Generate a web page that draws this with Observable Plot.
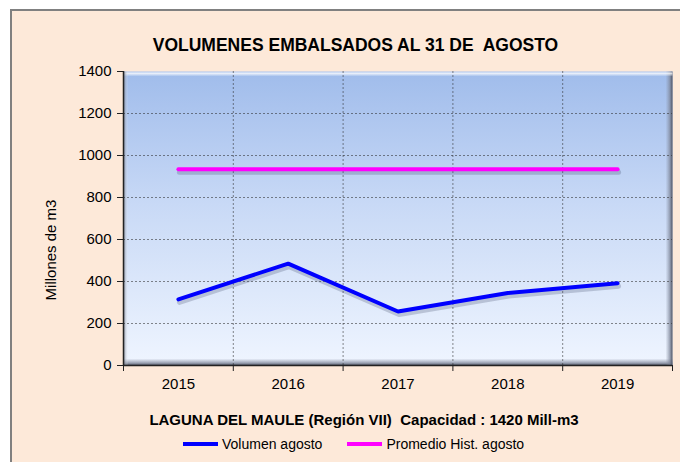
<!DOCTYPE html>
<html>
<head>
<meta charset="utf-8">
<script src="https://cdn.jsdelivr.net/npm/d3@7"></script>
<script src="https://cdn.jsdelivr.net/npm/@observablehq/plot@0.6"></script>
<style>
  html, body { margin: 0; padding: 0; background: #fff; }
  #wrap { position: relative; width: 680px; height: 462px; overflow: hidden; background: #fff;
          font-family: "Liberation Sans", Arial, sans-serif; color: #000; }
  #panel { position: absolute; left: 10px; top: 9px; width: 700px; height: 480px;
           background: #FDE9D9; border: 2px solid #808080; box-sizing: border-box; }
  #chart { position: absolute; left: 0; top: 0; }
  #title { position: absolute; left: 0; width: 711px; top: 35px; line-height: 20px; white-space: pre;
           text-align: center; font-weight: bold; font-size: 17.5px; }
  #subtitle { position: absolute; left: 0; width: 728px; top: 410px; line-height: 20px; white-space: pre;
              text-align: center; font-weight: bold; font-size: 15px; }
  #ylabel { position: absolute; left: 51px; top: 250px; width: 0; height: 0; }
  #ylabel span { position: absolute; left: 0; top: 0; transform: translate(-50%, -50%) rotate(-90deg);
                 white-space: pre; font-size: 15px; line-height: 18px; }
  #legend { position: absolute; left: 183px; top: 434px; height: 20px; display: flex;
            align-items: center; font-size: 14px; line-height: 20px; white-space: pre; }
  #legend .sw { display: inline-block; width: 35px; height: 4px; margin-right: 4px; }
  #legend .gap { display: inline-block; width: 25px; }
</style>
</head>
<body>
<div id="wrap">
  <div id="panel"></div>
  <div id="chart"></div>
  <div id="title"></div>
  <div id="subtitle"></div>
  <div id="ylabel"><span></span></div>
  <div id="legend"></div>
</div>
<script>
// ---- data ----
const chartTitle = "VOLUMENES EMBALSADOS AL 31 DE  AGOSTO";
const chartSubtitle = "LAGUNA DEL MAULE (Región VII)  Capacidad : 1420 Mill-m3";
const yLabel = "Millones de m3";
const years = [2015, 2016, 2017, 2018, 2019];
const volumenAgosto = [315, 485, 257, 345, 392];
const promedioHist = [935, 935, 935, 935, 935];
const seriesNames = ["Volumen agosto", "Promedio Hist. agosto"];
const seriesColors = ["#0000FF", "#FF00FF"];
const yTicks = [0, 200, 400, 600, 800, 1000, 1200, 1400];
const yearBounds = [2014.5, 2015.5, 2016.5, 2017.5, 2018.5, 2019.5];

const rows = [];
years.forEach((yr, i) => {
  rows.push({year: yr, value: volumenAgosto[i], series: seriesNames[0]});
  rows.push({year: yr, value: promedioHist[i], series: seriesNames[1]});
});
const s0 = rows.filter(d => d.series === seriesNames[0]);
const s1 = rows.filter(d => d.series === seriesNames[1]);

const W = 680, H = 462, mL = 123, mR = 8, mT = 71, mB = 97;
const plotW = W - mL - mR, plotH = H - mT - mB;
const font = "'Liberation Sans', Arial, sans-serif";

const chart = Plot.plot({
  width: W, height: H,
  marginLeft: mL, marginRight: mR, marginTop: mT, marginBottom: mB,
  style: {background: "transparent", fontFamily: font, fontSize: "15px", color: "#000", overflow: "visible"},
  x: {domain: [yearBounds[0], yearBounds[yearBounds.length - 1]]},
  y: {domain: [yTicks[0], yTicks[yTicks.length - 1]]},
  marks: [
    Plot.frame({fill: "url(#plotBg)"}),
    Plot.frame({fill: "url(#bevB)", insetTop: plotH - 7}),
    Plot.frame({fill: "url(#bevR)", insetLeft: plotW - 7}),
    Plot.frame({fill: "url(#bevT)", insetBottom: plotH - 5}),
    Plot.frame({fill: "url(#bevL)", insetRight: plotW - 5}),
    Plot.gridY(yTicks.filter(v => v > yTicks[0] && v < yTicks[yTicks.length - 1]),
      {stroke: "#2a2a2a", strokeOpacity: 0.55, strokeDasharray: "2,2"}),
    Plot.gridX(yearBounds.slice(1, -1),
      {stroke: "#2a2a2a", strokeOpacity: 0.55, strokeDasharray: "2,2"}),
    Plot.line(s1, {x: "year", y: "value", stroke: "#2a3050", strokeOpacity: 0.22, strokeWidth: 5, dx: 1, dy: 3}),
    Plot.line(s0, {x: "year", y: "value", stroke: "#2a3050", strokeOpacity: 0.22, strokeWidth: 5, dx: 1, dy: 3}),
    Plot.line(s1, {x: "year", y: "value", stroke: seriesColors[1], strokeWidth: 4, strokeLinecap: "round"}),
    Plot.line(s0, {x: "year", y: "value", stroke: seriesColors[0], strokeWidth: 4, strokeLinecap: "round", strokeLinejoin: "miter"}),
    Plot.ruleX([yearBounds[0]], {stroke: "#222", strokeWidth: 1.5}),
    Plot.ruleY([yTicks[0]], {stroke: "#222", strokeWidth: 1.5}),
    Plot.axisY(yTicks, {tickSize: 6, tickPadding: 6, fontSize: 15, label: null, stroke: "#222", tickFormat: d => String(d)}),
    Plot.axisX(years, {tickSize: 0, tickPadding: 13, fontSize: 15, label: null, tickFormat: d => String(d)}),
    Plot.axisX(yearBounds, {tickSize: 6, label: null, tickFormat: () => "", stroke: "#222"})
  ]
});

// gradients for the plot area
const defs = d3.select(chart).insert("defs", ":first-child");
function grad(id, x2, y2, stops) {
  const g = defs.append("linearGradient").attr("id", id)
    .attr("x1", 0).attr("y1", 0).attr("x2", x2).attr("y2", y2);
  stops.forEach(([o, c, a]) => g.append("stop").attr("offset", o).attr("stop-color", c).attr("stop-opacity", a));
}
grad("plotBg", 0, 1, [[0, "#A0BCEB", 1], [0.45, "#C8D9F6", 1], [1, "#EFF5FF", 1]]);
grad("bevB", 0, 1, [[0, "#8A93A6", 0], [0.6, "#7C8497", 0.7], [1, "#4B5060", 1]]);
grad("bevR", 1, 0, [[0, "#8A93A6", 0], [0.6, "#7C8497", 0.7], [1, "#4B5060", 1]]);
grad("bevT", 0, 1, [[0, "#FFFFFF", 0.2], [0.4, "#FFFFFF", 0.75], [1, "#FFFFFF", 0]]);
grad("bevL", 1, 0, [[0, "#5C6475", 0.7], [1, "#FFFFFF", 0]]);

document.getElementById("chart").appendChild(chart);
document.getElementById("title").textContent = chartTitle;
document.getElementById("subtitle").textContent = chartSubtitle;
document.querySelector("#ylabel span").textContent = yLabel;

const legend = document.getElementById("legend");
seriesNames.forEach((name, i) => {
  if (i > 0) { const g = document.createElement("span"); g.className = "gap"; legend.appendChild(g); }
  const sw = document.createElement("span"); sw.className = "sw"; sw.style.background = seriesColors[i];
  const t = document.createElement("span"); t.textContent = name;
  legend.appendChild(sw); legend.appendChild(t);
});
</script>
</body>
</html>
